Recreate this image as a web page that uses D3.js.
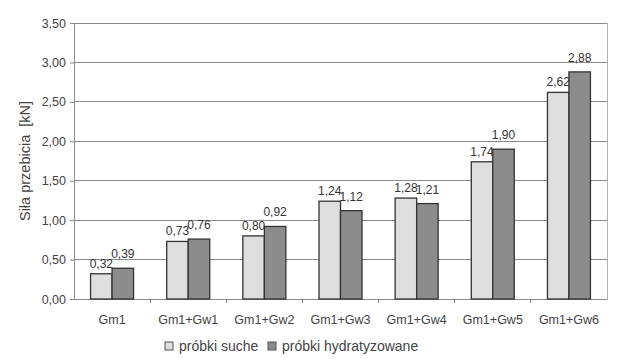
<!DOCTYPE html>
<html><head><meta charset="utf-8">
<script src="https://cdn.jsdelivr.net/npm/d3@7/dist/d3.min.js"></script>
<style>
html,body{margin:0;padding:0;background:#fff;}
svg{display:block;font-family:"Liberation Sans",Arial,sans-serif;}
</style></head>
<body>
<svg id="chart" width="636" height="359"></svg>
<script>
const categories = ["Gm1","Gm1+Gw1","Gm1+Gw2","Gm1+Gw3","Gm1+Gw4","Gm1+Gw5","Gm1+Gw6"];
const seriesNames = ["próbki suche","próbki hydratyzowane"];
const drySamples = [0.32,0.73,0.80,1.24,1.28,1.74,2.62];
const hydratedSamples = [0.39,0.76,0.92,1.12,1.21,1.90,2.88];
const yTicks = [0,0.5,1,1.5,2,2.5,3,3.5];
const yTitle = "Siła przebicia  [kN]";

const svg = d3.select("#chart");
const m = {left:74, right:29, top:23, bottom:60};
const W = 636, H = 359;
const pw = W - m.left - m.right, ph = H - m.top - m.bottom;
const fmt = v => d3.format(".2f")(v).replace(".", ",");

const x = d3.scaleBand().domain(categories).range([0, pw]).paddingInner(0).paddingOuter(0);
const y = d3.scaleLinear().domain([0, 3.5]).range([ph, 0]);
const bw = 21.5;
const xs = d3.scaleBand().domain([0,1]).range([x.bandwidth()/2 - bw, x.bandwidth()/2 + bw]);

const g = svg.append("g").attr("transform", `translate(${m.left},${m.top})`);

// gridlines
g.append("g").selectAll("line").data(yTicks.filter(t => t > 0)).join("line")
  .attr("x1", 0).attr("x2", pw).attr("y1", d => y(d)).attr("y2", d => y(d))
  .attr("stroke", "#8a8a8a").attr("stroke-width", 1).attr("shape-rendering","crispEdges");
// right border
g.append("line").attr("x1", pw).attr("x2", pw).attr("y1", 0).attr("y2", ph)
  .attr("stroke", "#b0b0b0").attr("shape-rendering","crispEdges");

// y axis
const yAxis = g.append("g").call(d3.axisLeft(y).tickValues(yTicks).tickFormat(fmt).tickSize(4).tickPadding(4));
yAxis.select(".domain").attr("stroke", "#8a8a8a");
yAxis.selectAll(".tick line").attr("stroke", "#8a8a8a");
yAxis.selectAll("text").attr("fill", "#444").style("font-size", "12.5px");

// x axis
const xAxis = g.append("g").attr("transform", `translate(0,${ph})`)
  .call(d3.axisBottom(x).tickSize(0).tickPadding(16));
xAxis.select(".domain").attr("stroke", "#8a8a8a");
xAxis.selectAll("text").attr("fill", "#444").style("font-size", "12.5px");
// category separator ticks
g.append("g").selectAll("line").data(categories.slice(1)).join("line")
  .attr("x1", d => x(d)).attr("x2", d => x(d)).attr("y1", ph).attr("y2", ph + 4)
  .attr("stroke", "#8a8a8a").attr("shape-rendering","crispEdges");

const series = [
  {name: seriesNames[0], values: drySamples, fill: "#dedede", dy: 6},
  {name: seriesNames[1], values: hydratedSamples, fill: "#8c8c8c", dy: 10}
];

series.forEach((s, si) => {
  const sg = g.append("g");
  sg.selectAll("rect").data(s.values).join("rect")
    .attr("x", (d, i) => x(categories[i]) + xs(si))
    .attr("y", d => y(d))
    .attr("width", xs.bandwidth())
    .attr("height", d => ph - y(d))
    .attr("fill", s.fill).attr("stroke", "#333").attr("stroke-width", 1.3);
  sg.selectAll("text").data(s.values).join("text")
    .attr("x", (d, i) => x(categories[i]) + xs(si) + xs.bandwidth()/2)
    .attr("y", d => y(d) - s.dy)
    .attr("text-anchor", "middle")
    .attr("fill", "#333").style("font-size", "12px")
    .text(fmt);
});

// y title
svg.append("text")
  .attr("transform", `translate(30,${m.top + ph/2}) rotate(-90)`)
  .attr("text-anchor", "middle").attr("fill", "#444")
  .style("font-size", "14.5px").style("white-space", "pre")
  .text(yTitle);

// legend
const legend = svg.append("g");
const lx = [165, 268];
series.forEach((s, i) => {
  legend.append("rect").attr("x", lx[i]).attr("y", 342).attr("width", 8).attr("height", 8)
    .attr("fill", s.fill).attr("stroke", "#555").attr("stroke-width", 1);
  legend.append("text").attr("x", lx[i] + 14).attr("y", 351)
    .attr("fill", "#444").style("font-size", "14px").text(s.name);
});
</script>
</body></html>
